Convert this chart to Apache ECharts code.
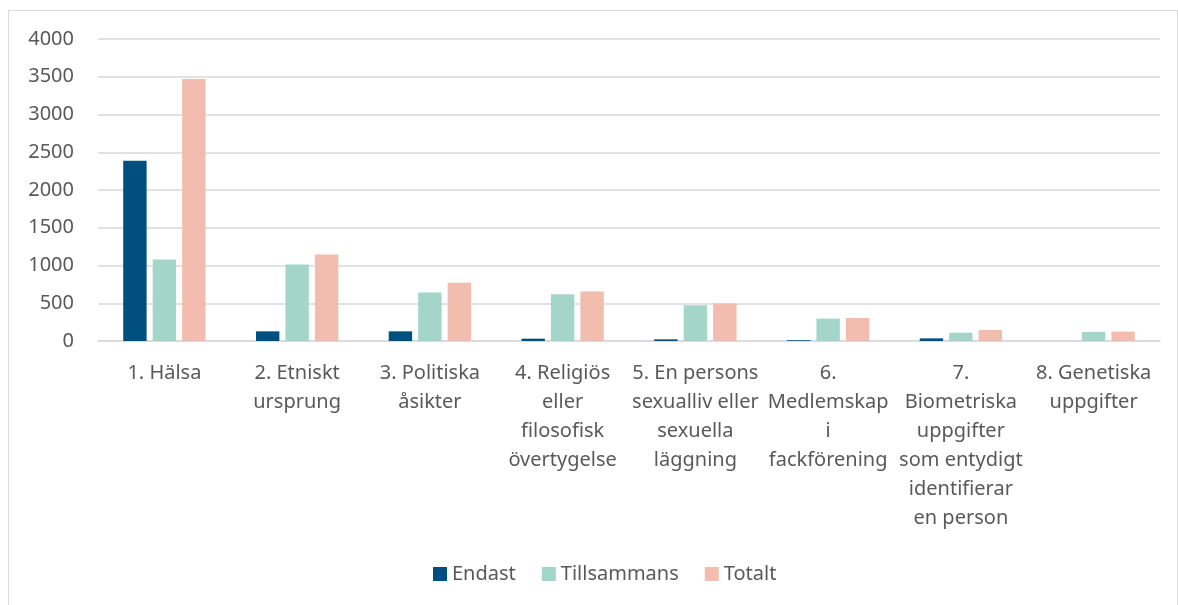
<!DOCTYPE html>
<html>
<head>
<meta charset="utf-8">
<script src="https://cdn.jsdelivr.net/npm/echarts@6/dist/echarts.min.js"></script>
<style>
	html, body { margin: 0; padding: 0; background: #fff; overflow: hidden; }
	#frame { position: absolute; left: 8px; top: 10px; width: 1168px; height: 620px; border: 1px solid #d9d9d9; }
	#main { position: absolute; left: 0; top: 0; width: 1178px; height: 605px; }
</style>
</head>
<body>
<div id="frame"></div>
<div id="main"></div>
<script>
// kategorier (radbrytningar som i originalet)
var categories = [
	'1. Hälsa',
	'2. Etniskt\nursprung',
	'3. Politiska\nåsikter',
	'4. Religiös\neller\nfilosofisk\növertygelse',
	'5. En persons\nsexualliv eller\nsexuella\nläggning',
	'6.\nMedlemskap\ni\nfackförening',
	'7.\nBiometriska\nuppgifter\nsom entydigt\nidentifierar\nen person',
	'8. Genetiska\nuppgifter'
];
var seriesNames = ['Endast', 'Tillsammans', 'Totalt'];
var endast = [2388, 128, 128, 31, 22, 10, 35, 0];
var tillsammans = [1080, 1013, 642, 619, 473, 296, 110, 120];
var totalt = [3470, 1146, 770, 655, 496, 305, 146, 124];
var colors = ['#004f80', '#a3d5c9', '#f2bcae'];

var textColor = '#595959';
var fontName = 'Noto Sans';

var myChart = echarts.init(document.getElementById('main'));

myChart.setOption({
	animation: false,
	color: colors,
	grid: {
		left: 98,
		right: 18,
		top: 39,
		bottom: 264
	},
	legend: {
		bottom: 16,
		left: 428,
		itemWidth: 14,
		itemHeight: 14,
		itemGap: 26,
		icon: 'rect',
		textStyle: { color: textColor, fontSize: 20, fontFamily: fontName },
		data: seriesNames
	},
	xAxis: {
		type: 'category',
		data: categories,
		axisLine: { show: true, lineStyle: { color: '#d9d9d9', width: 1.5 } },
		axisTick: { show: false },
		axisLabel: {
			interval: 0,
			color: textColor,
			fontSize: 20,
			fontFamily: fontName,
			lineHeight: 29,
			margin: 18,
			align: 'center'
		}
	},
	yAxis: {
		type: 'value',
		min: 0,
		max: 4000,
		interval: 500,
		axisLine: { show: false },
		axisTick: { show: false },
		axisLabel: {
			color: textColor, fontSize: 20, fontFamily: fontName, margin: 24,
			formatter: function (v) { return String(v); }
		},
		splitLine: { lineStyle: { color: '#d9d9d9', width: 1.5 } }
	},
	series: [
		{ name: seriesNames[0], type: 'bar', data: endast, barGap: '26%', barCategoryGap: '38%' },
		{ name: seriesNames[1], type: 'bar', data: tillsammans },
		{ name: seriesNames[2], type: 'bar', data: totalt }
	]
});
</script>
</body>
</html>
